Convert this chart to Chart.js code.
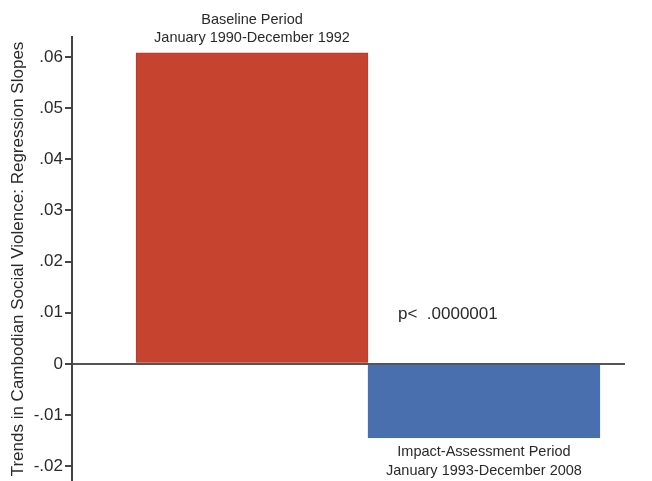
<!DOCTYPE html>
<html>
<head>
<meta charset="utf-8">
<script src="https://cdn.jsdelivr.net/npm/chart.js@4"></script>
<style>
  html, body { margin: 0; padding: 0; background: #fff; }
  #wrap { width: 652px; height: 481px; }
</style>
</head>
<body>
<div id="wrap"><canvas id="slopes"></canvas></div>
<script>
// Data
const periods = ['Baseline Period', 'Impact-Assessment Period'];
const periodRanges = ['January 1990-December 1992', 'January 1993-December 2008'];
const positions = [1, 2];
const slopes = [0.0608, -0.0145];
const barColors = ['#c5432f', '#4a6fae'];
const yTicks = [-0.02, -0.01, 0, 0.01, 0.02, 0.03, 0.04, 0.05, 0.06];
const pValueText = 'p<  .0000001';

const fontFamily = '"Liberation Sans", Arial, Helvetica, sans-serif';

// label each bar: above the positive one, below the negative one
const barLabels = {
    id: 'barLabels',
    afterDatasetsDraw(chart) {
        const ctx = chart.ctx;
        const meta = chart.getDatasetMeta(0);
        const yScale = chart.scales.y;
        ctx.save();
        ctx.fillStyle = '#2a2a2a';
        ctx.textAlign = 'center';
        ctx.textBaseline = 'middle';
        ctx.font = '14.5px ' + fontFamily;
        meta.data.forEach((bar, i) => {
            if (slopes[i] >= 0) {
                ctx.fillText(periods[i], bar.x, bar.y - 33);
                ctx.fillText(periodRanges[i], bar.x, bar.y - 15);
            } else {
                ctx.fillText(periods[i], bar.x, bar.y + 14);
                ctx.fillText(periodRanges[i], bar.x, bar.y + 33);
            }
        });
        // p-value note
        const x = chart.scales.x.getPixelForValue(2);
        ctx.font = '17px ' + fontFamily;
        ctx.textAlign = 'left';
        ctx.fillText(pValueText, x - 86, yScale.getPixelForValue(0.0096));
        ctx.restore();
    }
};

new Chart(document.getElementById('slopes'), {
    type: 'bar',
    data: {
        datasets: [{
            data: positions.map((p, i) => ({ x: p, y: slopes[i] })),
            backgroundColor: barColors,
            borderColor: ['#b63c2a', '#4a6fae'],
            borderWidth: 1,
            barThickness: 'flex',
            barPercentage: 1,
            categoryPercentage: 1
        }]
    },
    options: {
        responsive: true,
        maintainAspectRatio: false,
        animation: false,
        layout: { padding: { top: 37, right: 27, bottom: 0, left: 0 } },
        plugins: {
            legend: { display: false },
            tooltip: { enabled: false }
        },
        scales: {
            x: {
                type: 'linear',
                min: 0.224,
                max: 2.608,
                offset: false,
                display: false,
                afterBuildTicks: s => { s.ticks = positions.map(v => ({ value: v })); }
            },
            y: {
                min: -0.0229,
                max: 0.0639,
                afterFit: s => {
                    s.width = 72;
                    s.paddingTop = 0;
                    s.paddingBottom = 0;
                },
                afterBuildTicks: s => { s.ticks = yTicks.map(v => ({ value: v })); },
                border: { display: true, color: '#444', width: 2 },
                grid: {
                    color: c => c.tick && c.tick.value === 0 ? '#555' : 'rgba(0,0,0,0)',
                    lineWidth: 2,
                    tickColor: '#444',
                    tickLength: 7
                },
                ticks: {
                    color: '#2a2a2a',
                    padding: 2,
                    font: { family: fontFamily, size: 17 },
                    callback: v => v === 0 ? '0' : (v < 0 ? '-' : '') + Math.abs(v).toFixed(2).replace(/^0/, '')
                },
                title: {
                    display: true,
                    text: 'Trends in Cambodian Social Violence: Regression Slopes',
                    color: '#2a2a2a',
                    font: { family: fontFamily, size: 17 },
                    padding: { top: 8, bottom: 0 }
                }
            }
        }
    },
    plugins: [barLabels]
});
</script>
</body>
</html>
